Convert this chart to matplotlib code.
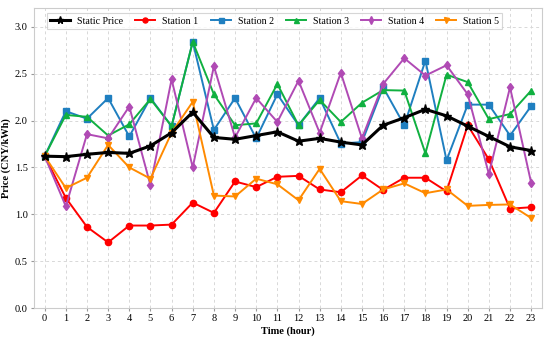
import matplotlib
matplotlib.use("Agg")
import matplotlib.pyplot as plt
import numpy as np

hours = list(range(24))
static_price = [1.62, 1.615, 1.64, 1.66, 1.65, 1.73, 1.87, 2.09, 1.82, 1.80, 1.84, 1.88,
                1.78, 1.81, 1.77, 1.74, 1.95, 2.03, 2.12, 2.05, 1.94, 1.83, 1.72, 1.68]
station1 = [1.62, 1.175, 0.865, 0.70, 0.88, 0.88, 0.89, 1.125, 1.015, 1.35, 1.29, 1.40,
            1.41, 1.265, 1.235, 1.415, 1.26, 1.39, 1.39, 1.245, 1.95, 1.585, 1.06, 1.075]
station2 = [1.62, 2.10, 2.02, 2.24, 1.83, 2.24, 1.94, 2.84, 1.90, 2.24, 1.81, 2.28,
            1.95, 2.24, 1.755, 1.77, 2.355, 1.95, 2.64, 1.575, 2.17, 2.17, 1.84, 2.155]
station3 = [1.62, 2.06, 2.04, 1.84, 1.96, 2.23, 1.94, 2.84, 2.28, 1.95, 1.97, 2.39,
            1.95, 2.22, 1.985, 2.19, 2.325, 2.32, 1.65, 2.49, 2.41, 2.015, 2.07, 2.32]
station4 = [1.62, 1.085, 1.855, 1.81, 2.15, 1.31, 2.44, 1.50, 2.58, 1.82, 2.24, 1.985,
            2.425, 1.87, 2.51, 1.81, 2.39, 2.665, 2.48, 2.59, 2.28, 1.43, 2.355, 1.335]
station5 = [1.62, 1.28, 1.39, 1.74, 1.50, 1.38, 1.87, 2.20, 1.20, 1.19, 1.38, 1.32,
            1.15, 1.485, 1.14, 1.11, 1.265, 1.33, 1.225, 1.265, 1.09, 1.10, 1.105, 0.96]

plt.rcParams['font.family'] = ['Liberation Serif', 'DejaVu Serif']

fig = plt.figure(figsize=(5.5, 3.37), dpi=100)
ax = fig.add_axes([0.062, 0.086, 0.923, 0.89])

series = [
    ("Static Price", static_price, 'black', '*', 6.5, 2.2),
    ("Station 1", station1, '#ff0000', 'o', 4.5, 1.4),
    ("Station 2", station2, '#1f7fc0', 's', 4.5, 1.4),
    ("Station 3", station3, '#10b040', '^', 4.5, 1.4),
    ("Station 4", station4, '#b04ab4', 'd', 4.5, 1.4),
    ("Station 5", station5, '#ff8a00', 'v', 4.5, 1.4),
]
order = [1, 2, 3, 4, 5, 0]
handles = {}
for i in order:
    name, vals, c, m, ms, lw = series[i]
    h, = ax.plot(hours, vals, color=c, marker=m, markersize=ms, linewidth=lw, label=name,
                 zorder=3 if i else 4)
    handles[i] = h

ax.set_xlim(-0.5, 23.5)
ax.set_ylim(0, 3.2)
ax.set_xticks(hours)
ax.set_yticks(np.arange(0, 3.01, 0.5))
ax.set_yticklabels([f"{v:.1f}" for v in np.arange(0, 3.01, 0.5)])
ax.tick_params(labelsize=7.5, length=2.5, color='#999999', pad=2)
ax.grid(True, linestyle=(0, (3, 3)), color='#d8d8d8', linewidth=0.7)
ax.set_axisbelow(True)
for s in ax.spines.values():
    s.set_color('#cccccc')
    s.set_linewidth(0.8)

ax.set_xlabel("Time (hour)", fontsize=7.5, fontweight='bold', labelpad=2)
ax.set_ylabel("Price (CNY/kWh)", fontsize=7.5, fontweight='bold', labelpad=3)

leg = ax.legend([handles[i] for i in range(6)], [series[i][0] for i in range(6)],
                loc='upper center', ncol=6, fontsize=7.2, frameon=True,
                bbox_to_anchor=(0.4735, 0.982), borderaxespad=0,
                handlelength=2.0, columnspacing=1.2,
                borderpad=0.35, handletextpad=0.7, fancybox=False, edgecolor='#cccccc',
                markerscale=0.8)
leg.get_frame().set_linewidth(0.8)

fig.savefig("out.png", dpi=100)
